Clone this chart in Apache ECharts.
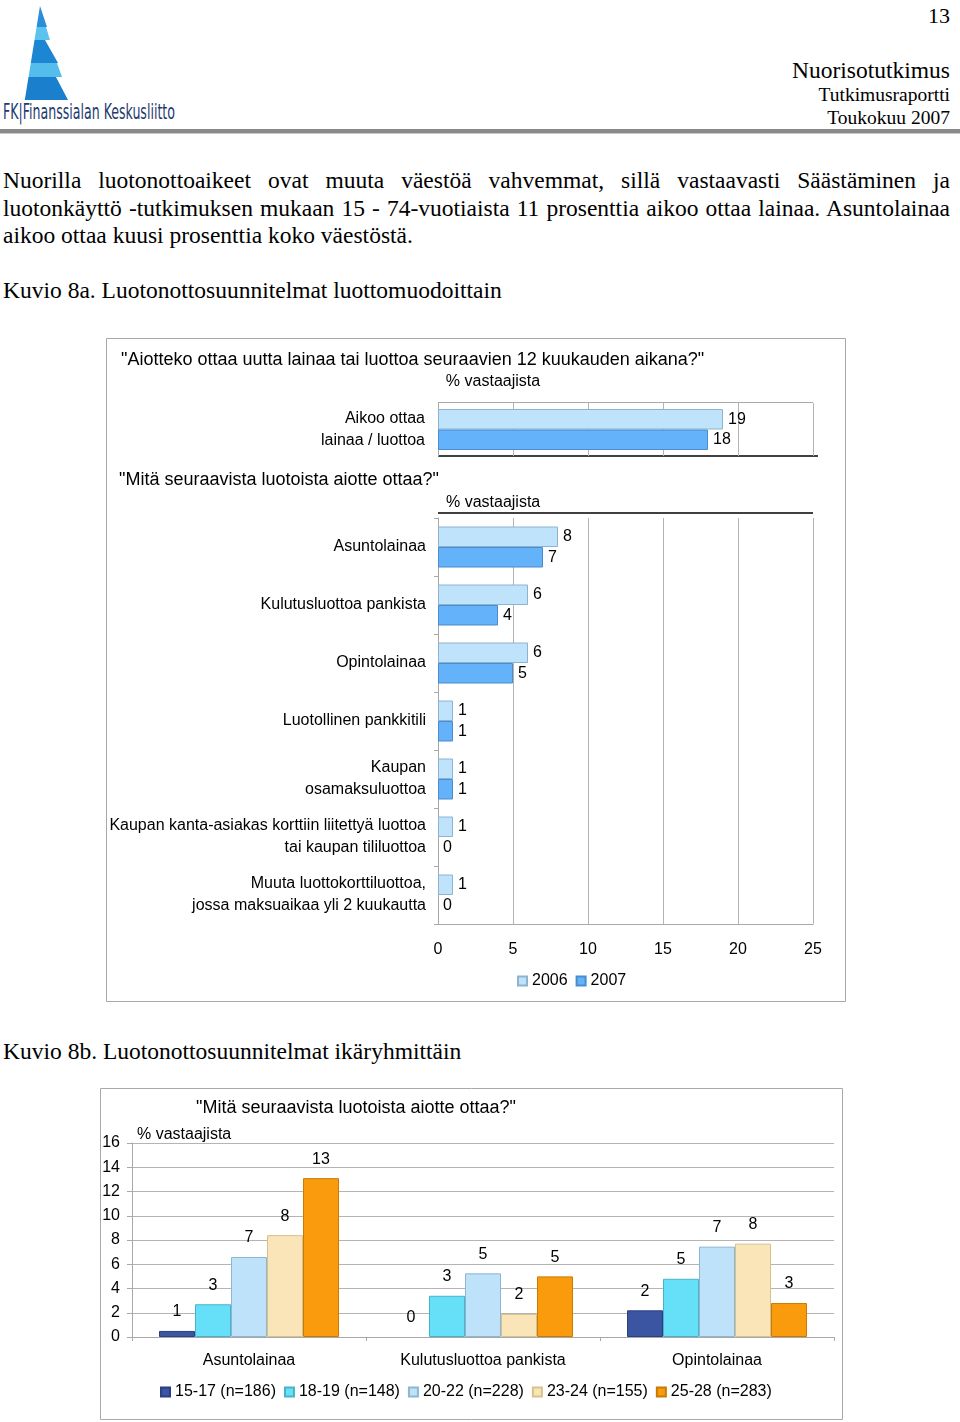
<!DOCTYPE html>
<html><head><meta charset="utf-8">
<script src="https://cdn.jsdelivr.net/npm/echarts@6.0.0/dist/echarts.min.js"></script>
<style>
html,body{margin:0;padding:0;background:#fff;}
body{width:960px;height:1422px;position:relative;overflow:hidden;font-family:"Liberation Serif","Times New Roman",serif;color:#000;}
.abs{position:absolute;white-space:nowrap;}
.r{text-align:right;}
.jl{text-align:justify;text-align-last:justify;}
#chart{position:absolute;left:0;top:0;width:960px;height:1422px;pointer-events:none;}
</style>
</head><body>
<svg class="abs" style="left:0;top:0" width="200" height="126" viewBox="0 0 200 126">
  <polygon points="40,6 47,27 36.6,27" fill="#2a8fd8"/>
  <polygon points="36.6,27 46,27 50,40 34.5,40" fill="#5cc3ef"/>
  <polygon points="34.5,40 45,40 58,63 30.8,63" fill="#1d86d2"/>
  <polygon points="30.8,63 57,63 62,77 28.5,77" fill="#55bdec"/>
  <polygon points="28.5,77 56,77 68,100 24.8,100" fill="#1a7fcc"/>
  <text x="3" y="119" font-family="Liberation Sans Narrow, DejaVu Sans Condensed, Arial Narrow, sans-serif" font-size="21" fill="#1d3b6e" textLength="172" lengthAdjust="spacingAndGlyphs">FK|Finanssialan Keskusliitto</text>
</svg>
<div class="abs r" style="right:10px;top:3px;font-size:22px;line-height:26px;">13</div>
<div class="abs r" style="right:10px;top:57px;font-size:23.5px;line-height:26px;">Nuorisotutkimus</div>
<div class="abs r" style="right:10px;top:84px;font-size:19.5px;line-height:22px;">Tutkimusraportti</div>
<div class="abs r" style="right:10px;top:107px;font-size:19.5px;line-height:22px;">Toukokuu 2007</div>
<div class="abs" style="left:0;top:129px;width:960px;height:4px;background:#8a8a8a;"></div>
<div class="abs" style="left:0;top:133px;width:960px;height:1px;background:#c8c8c8;"></div>

<div class="abs jl" style="left:3px;top:167px;width:947px;font-size:23.5px;line-height:27.5px;">Nuorilla luotonottoaikeet ovat muuta väestöä vahvemmat, sillä vastaavasti Säästäminen ja</div>
<div class="abs jl" style="left:3px;top:194.5px;width:947px;font-size:23.5px;line-height:27.5px;">luotonkäyttö -tutkimuksen mukaan 15 - 74-vuotiaista 11 prosenttia aikoo ottaa lainaa. Asuntolainaa</div>
<div class="abs" style="left:3px;top:222px;font-size:23.5px;line-height:27.5px;">aikoo ottaa kuusi prosenttia koko väestöstä.</div>
<div class="abs" style="left:3px;top:276px;font-size:23.5px;line-height:28px;">Kuvio 8a. Luotonottosuunnitelmat luottomuodoittain</div>
<div class="abs" style="left:3px;top:1037px;font-size:23.5px;line-height:28px;">Kuvio 8b. Luotonottosuunnitelmat ikäryhmittäin</div>

<div id="chart"></div>
<script>
// ---- Data: Kuvio 8a ----
const yearNames = ['2006', '2007'];
const intentCategories = ['Aikoo ottaa\nlainaa / luottoa'];
const intent2006 = [19];
const intent2007 = [18];
const loanCategories = [
  'Asuntolainaa',
  'Kulutusluottoa pankista',
  'Opintolainaa',
  'Luotollinen pankkitili',
  'Kaupan\nosamaksuluottoa',
  'Kaupan kanta-asiakas korttiin liitettyä luottoa\ntai kaupan tililuottoa',
  'Muuta luottokorttiluottoa,\njossa maksuaikaa yli 2 kuukautta'
];
const loans2006 = [8, 6, 6, 1, 1, 1, 1];
const loans2007 = [7, 4, 5, 1, 1, 0, 0];

// ---- Data: Kuvio 8b ----
const ageCategories = ['Asuntolainaa', 'Kulutusluottoa pankista', 'Opintolainaa'];
const ageGroupNames = ['15-17 (n=186)', '18-19 (n=148)', '20-22 (n=228)', '23-24 (n=155)', '25-28 (n=283)'];
const age15to17 = [0.5, 0, 2.2];
const age18to19 = [2.7, 3.4, 4.8];
const age20to22 = [6.6, 5.25, 7.45];
const age23to24 = [8.4, 1.9, 7.7];
const age25to28 = [13.1, 5.0, 2.8];

// ---- Texts ----
const q1 = '"Aiotteko ottaa uutta lainaa tai luottoa seuraavien 12 kuukauden aikana?"';
const q2 = '"Mitä seuraavista luotoista aiotte ottaa?"';
const unitLabel = '% vastaajista';

const FONT = '"Liberation Sans", Arial, Helvetica, sans-serif';
const yearColors = [{fill: '#bfe3fb', border: '#8db3cf'}, {fill: '#63b2fa', border: '#4a8ccc'}];
const ageColors = [
  {fill: '#3b55a3', border: '#2b3f80'},
  {fill: '#66dff8', border: '#48b3cb'},
  {fill: '#bde2fa', border: '#8fb6d0'},
  {fill: '#fae5b8', border: '#d8c08e'},
  {fill: '#f99b0c', border: '#c97a00'}
];
const ageData = [age15to17, age18to19, age20to22, age23to24, age25to28];

const chart = echarts.init(document.getElementById('chart'), null, {renderer: 'canvas'});

function txt(x, y, text, align, size) {
  return {type: 'text', x: x, y: y, silent: true,
    style: {text: text, fill: '#000', font: (size || 16) + 'px ' + FONT, align: align || 'left', verticalAlign: 'middle'}};
}
function line(x1, y1, x2, y2, color, w) {
  return {type: 'line', silent: true, shape: {x1: x1, y1: y1, x2: x2, y2: y2},
    style: {stroke: color, lineWidth: w}};
}
// zero values get no border so no hairline is drawn
function withZeroes(arr) {
  return arr.map(function (v) { return v === 0 ? {value: 0, itemStyle: {borderWidth: 0}} : v; });
}

const valueAxisBase = {
  type: 'value', min: 0, max: 25, interval: 5,
  axisTick: {show: false},
  splitLine: {show: true, lineStyle: {color: '#b4b4b4', width: 1}}
};

function yearSeries(idx, data, axisIdx) {
  return {
    name: yearNames[idx], type: 'bar', xAxisIndex: axisIdx, yAxisIndex: axisIdx,
    data: withZeroes(data), barWidth: 20.5, barGap: '0%',
    itemStyle: {color: yearColors[idx].fill, borderColor: yearColors[idx].border, borderWidth: 1},
    label: {show: true, position: 'right', distance: 5, color: '#000', fontSize: 16, fontFamily: FONT},
    emphasis: {disabled: true}, animation: false
  };
}

const series = [
  yearSeries(0, intent2006, 0), yearSeries(1, intent2007, 0),
  yearSeries(0, loans2006, 1), yearSeries(1, loans2007, 1)
];
ageGroupNames.forEach(function (name, i) {
  series.push({
    name: name, type: 'bar', xAxisIndex: 2, yAxisIndex: 2,
    data: withZeroes(ageData[i]), barWidth: 36, barGap: '0%',
    itemStyle: {color: ageColors[i].fill, borderColor: ageColors[i].border, borderWidth: 1},
    label: {show: true, position: 'top', distance: 11, color: '#000', fontSize: 16, fontFamily: FONT,
      formatter: function (p) { return String(Math.round(p.value)); }},
    emphasis: {disabled: true}, animation: false
  });
});

const option = {
  animation: false,
  backgroundColor: 'transparent',
  textStyle: {fontFamily: FONT, color: '#000'},
  grid: [
    {left: 438, top: 403, width: 375, height: 53},
    {left: 438, top: 518, width: 375, height: 406},
    {left: 132, top: 1143, width: 702, height: 194}
  ],
  xAxis: [
    Object.assign({}, valueAxisBase, {gridIndex: 0, axisLabel: {show: false}, axisLine: {show: false}}),
    Object.assign({}, valueAxisBase, {gridIndex: 1,
      axisLine: {show: true, lineStyle: {color: '#a8a8a8', width: 1}},
      axisLabel: {show: true, margin: 18, color: '#000', fontSize: 16, fontFamily: FONT}}),
    {type: 'category', gridIndex: 2, data: ageCategories,
      axisLine: {show: true, lineStyle: {color: '#a8a8a8'}},
      axisTick: {show: true, length: 4, lineStyle: {color: '#a8a8a8'}},
      axisLabel: {margin: 16, color: '#000', fontSize: 16, fontFamily: FONT},
      splitLine: {show: false}}
  ],
  yAxis: [
    {type: 'category', gridIndex: 0, inverse: true, data: intentCategories,
      axisLine: {show: true, lineStyle: {color: '#a8a8a8'}}, axisTick: {show: false},
      axisLabel: {margin: 13, align: 'right', color: '#000', fontSize: 16, lineHeight: 22, fontFamily: FONT}},
    {type: 'category', gridIndex: 1, inverse: true, data: loanCategories,
      axisLine: {show: true, lineStyle: {color: '#a8a8a8'}},
      axisTick: {show: true, length: 4, lineStyle: {color: '#a8a8a8'}},
      axisLabel: {margin: 12, align: 'right', color: '#000', fontSize: 16, lineHeight: 22, fontFamily: FONT}},
    {type: 'value', gridIndex: 2, min: 0, max: 16, interval: 2,
      axisLine: {show: true, lineStyle: {color: '#a8a8a8'}},
      axisTick: {show: true, length: 5, lineStyle: {color: '#a8a8a8'}},
      axisLabel: {margin: 12, color: '#000', fontSize: 16, fontFamily: FONT},
      splitLine: {show: true, lineStyle: {color: '#b4b4b4'}}}
  ],
  legend: [
    {data: yearNames, left: 517, top: 973, itemWidth: 9, itemHeight: 9, itemGap: 8,
      icon: 'rect', selectedMode: false, textStyle: {fontSize: 16, color: '#000', fontFamily: FONT}, padding: 0},
    {data: ageGroupNames, left: 160, top: 1384, itemWidth: 9, itemHeight: 9, itemGap: 8,
      icon: 'rect', selectedMode: false, textStyle: {fontSize: 16, color: '#000', fontFamily: FONT}, padding: 0}
  ],
  series: series,
  graphic: [
    {type: 'rect', silent: true, shape: {x: 106.5, y: 338.5, width: 739, height: 663},
      style: {fill: 'none', stroke: '#a8a8a8', lineWidth: 1}},
    {type: 'rect', silent: true, shape: {x: 100.5, y: 1088.5, width: 742, height: 331},
      style: {fill: 'none', stroke: '#a8a8a8', lineWidth: 1}},
    line(438, 402.5, 813, 402.5, '#a8a8a8', 1),
    line(438, 456, 818, 456, '#000', 1.6),
    line(438, 513, 813, 513, '#000', 1.6),
    txt(121, 360, q1, 'left', 18),
    txt(493, 382, unitLabel, 'center'),
    txt(119, 480, q2, 'left', 18),
    txt(446, 503, unitLabel),
    txt(356, 1108, q2, 'center', 18),
    txt(137, 1135, unitLabel)
  ]
};
chart.setOption(option);
</script>
</body></html>
